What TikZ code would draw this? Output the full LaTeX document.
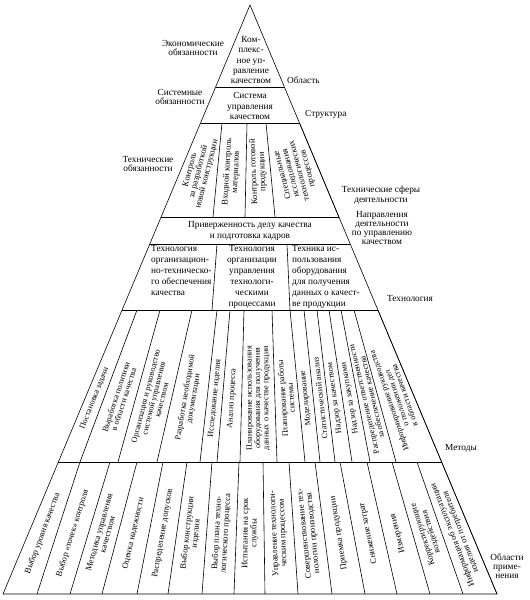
\documentclass[tikz,border=0pt]{standalone}
\usepackage{fontspec}
\setmainfont{Liberation Serif}
\usetikzlibrary{calc}

\begin{document}
\begin{tikzpicture}[x=1pt,y=-1pt,
  line/.style={draw,line width=0.6pt},
  lbl/.style={font=\fontsize{9.3}{9.6}\selectfont,align=center,inner sep=0pt},
  band/.style={font=\fontsize{9.3}{10.2}\selectfont,align=center,inner sep=0pt},
  colt/.style={font=\fontsize{8.6}{8.7}\selectfont,align=center,inner sep=0pt,
    midway,sloped,allow upside down}]
\useasboundingbox (0,0) rectangle (530,600);

% pyramid outline
\coordinate (apex) at (250,5);
\coordinate (bl) at (3,594);
\coordinate (br) at (497,594);
\draw[line] (bl) -- (apex) -- (br) -- cycle;

% levels
\foreach \n/\y in {1/87,2/123,3/217,4/244,5/310,6/462}{
  \coordinate (l\n) at ({250-0.41935*(\y-5)},\y);
  \coordinate (r\n) at ({250+0.41935*(\y-5)},\y);
  \draw[line] (l\n) -- (r\n);
}

% upper bands
\node[band] (tqc) at (251,60) {Ком-\\плекс-\\ное уп-\\равление\\качеством};
\node[band] (qms) at (250,106) {Система\\управления\\качеством};
\node[band] (devot) at (250,231) {Приверженность делу качества\\и подготовка кадров};

% technical band
\foreach [count=\i] \ta/\tb/\ba/\bb/\txt in {
  200.5/222/161.1/213/{Контроль\\за разработкой\\новой конструкции},
  222/247/213/245/{Входной контроль\\материалов},
  247/266/245/275/{Контроль готовой\\продукции},
  266/299.5/275/338.9/{Специальные\\исследования\\технологических\\процессов}}{
  \draw[line] (\tb,123) -- (\bb,217);
  \path ({(\ba+\bb)/2},217) -- ({(\ta+\tb)/2},123) node[colt,pos=0.48] (tech\i) {\txt};
}

% technology band
\draw[line] (217,244) -- (212,310);
\draw[line] (287,244) -- (290,310);
\node[band,align=left,anchor=north west,font=\fontsize{9.3}{11}\selectfont] (org1) at (151,245.5)
  {Технология\\организацион-\\но-техническо-\\го обеспечения\\качества};
\node[band,anchor=north,font=\fontsize{9.3}{11}\selectfont] (org2) at (252,245.5)
  {Технология\\организации\\управления\\технологи-\\ческими\\процессами};
\node[band,align=left,anchor=north west,font=\fontsize{9.3}{11}\selectfont] (org3) at (292,245.5)
  {Техника ис-\\пользования\\оборудования\\для получения\\данных о качест-\\ве продукции};

% methods band
\foreach [count=\i] \ta/\tb/\ba/\bb/\txt in {
  122.1/137/58.4/80/{Постановка задачи},
  137/160/80/118/{Выработка политики\\в области качества},
  160/192/118/157/{Организация и руководство\\системой управления\\качеством},
  192/217/157/200/{Разработка необходимой\\документации},
  217/230/200/217/{Исследование изделия},
  230/244/217/240/{Анализ процесса},
  244/272/240/277/{Планирование использования\\оборудования для получения\\данных о качестве продукции},
  272/290/277/305/{Планирование работы\\системы},
  290/304/305/320/{Моделирование},
  304/317/320/335/{Статистический анализ},
  317/329/335/352/{Надзор за качеством},
  329/341/352/370/{Надзор за закупками},
  341/354/370/396/{Распределение ответственности\\за обеспечение качества},
  354/377.9/396/441.6/{Информирование руководства\\о положении дел\\в области качества}}{
  \draw[line] (\tb,310) -- (\bb,462);
  \path ({(\ba+\bb)/2},462) -- ({(\ta+\tb)/2},310)
    node[colt,pos=0.42,font=\fontsize{8.2}{8.3}\selectfont] (meth\i) {\txt};
}

% application band
\foreach [count=\i] \ta/\tb/\ba/\bb/\txt in {
  58.4/80/3/37/{Выбор уровня качества},
  80/110/37/70/{Выбор «точек» контроля},
  110/137/70/102/{Методика управления\\качеством},
  137/163/102/137/{Оценка надежности},
  163/187/137/168/{Распределение допусков},
  187/212/168/202/{Выбор конструкции\\изделия},
  212/239/202/234/{Выбор плана техно-\\логического процесса},
  239/263/234/265/{Испытания на срок\\службы},
  263/289/265/298/{Управление технологи-\\ческим процессом},
  289/315/298/332/{Совершенствование тех-\\нологии производства},
  315/340/332/365/{Приемка продукции},
  340/367/365/397/{Снижение затрат},
  367/392/397/430/{Измерения},
  392/417/430/463/{Корректирующие\\воздействия},
  417/441.6/463/497/{Информация об эксплуатации\\изделия от потребителя}}{
  \draw[line] (\tb,462) -- (\bb,594);
  \path ({(\ba+\bb)/2},594) -- ({(\ta+\tb)/2},462) node[colt,pos=0.46] (appl\i) {\txt};
}

% side labels
\node[lbl] (econ) at (193,48) {Экономические\\обязанности};
\node[lbl,anchor=west] (area) at (287,80) {Область};
\node[lbl] (sysob) at (180,97) {Системные\\обязанности};
\node[lbl,anchor=west] (struct) at (305,114) {Структура};
\node[lbl] (techob) at (148,164) {Технические\\обязанности};
\node[lbl] (sphere) at (381,195) {Технические сферы\\деятельности};
\node[lbl,font=\fontsize{9.3}{9}\selectfont] (dirs) at (382,228) {Направления\\деятельности\\по управлению\\качеством};
\node[lbl] (techn) at (410,298) {Технология};
\node[lbl] (methods) at (461,448) {Методы};
\node[lbl,font=\fontsize{9.3}{9}\selectfont] (areas) at (507,566) {Области\\приме-\\нения};
\end{tikzpicture}
\end{document}
